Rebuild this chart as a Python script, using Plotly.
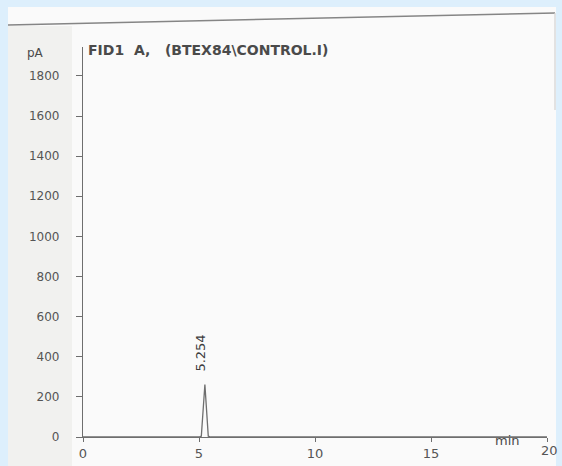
import plotly.graph_objects as go

# Data
time_min = [0.0, 2.0, 4.0, 5.0, 5.1, 5.254, 5.4, 5.5, 7.0, 10.0, 12.0, 15.0, 17.0, 20.0]
signal_pA = [0, 0, 0, 0, 4, 262, 4, 0, 0, 0, 0, 0, 0, 0]
x_ticks = [0, 5, 10, 15, 20]
y_ticks = [0, 200, 400, 600, 800, 1000, 1200, 1400, 1600, 1800]
peak_rt = 5.254
peak_label = "5.254"
title_text = "FID1  A,   (BTEX84\\CONTROL.I)"

W, H = 562, 466
L, R, T, B = 83, 15, 47, 29
PW, PH = W - L - R, H - T - B


def px(x):
    return (x - L) / PW


def py(y):
    return (H - B - y) / PH


FONT = "DejaVu Sans, Liberation Sans, Arial"

fig = go.Figure()
fig.add_trace(go.Scatter(
    x=time_min, y=signal_pA, mode="lines",
    line=dict(color="#6e6e6e", width=1.3),
    hoverinfo="skip", showlegend=False,
))

# paper sheet on light-blue background
fig.add_shape(type="rect", xref="paper", yref="paper",
              x0=px(8), x1=px(556), y0=py(H + 5), y1=py(7),
              line=dict(width=0), fillcolor="#fafafa", layer="below")
fig.add_shape(type="rect", xref="paper", yref="paper",
              x0=px(8), x1=px(72), y0=py(H + 5), y1=py(26),
              line=dict(width=0), fillcolor="#f1f1ef", layer="below")
# top border line of the printout (slightly slanted)
fig.add_shape(type="line", xref="paper", yref="paper",
              x0=px(8), y0=py(25), x1=px(555), y1=py(13),
              line=dict(color="#858585", width=1.5))
fig.add_shape(type="line", xref="paper", yref="paper",
              x0=px(555), y0=py(13), x1=px(555), y1=py(110),
              line=dict(color="#d2d2d2", width=1.2))

fig.add_annotation(x=peak_rt, y=318, text=peak_label, textangle=-90,
                   showarrow=False, xanchor="center", yanchor="bottom", xshift=-4,
                   font=dict(family=FONT, size=13, color="#3c3c3c"))
fig.add_annotation(xref="paper", yref="paper", x=px(86), y=py(50),
                   text=title_text, showarrow=False, xanchor="left", yanchor="middle",
                   font=dict(family=FONT, size=14, color="#4a4a4a", weight="bold"))
fig.add_annotation(xref="paper", yref="paper", x=px(25), y=py(53),
                   text="pA", showarrow=False, xanchor="left", yanchor="middle",
                   font=dict(family=FONT, size=12, color="#4a4a4a"))
fig.add_annotation(xref="paper", yref="paper", x=px(507), y=py(440),
                   text="min", showarrow=False, xanchor="center", yanchor="middle",
                   font=dict(family=FONT, size=13, color="#4a4a4a"))
fig.add_annotation(xref="paper", yref="paper", x=px(549), y=py(450),
                   text="20", showarrow=False, xanchor="center", yanchor="middle",
                   font=dict(family=FONT, size=13, color="#555555"))

fig.update_layout(
    width=W, height=H,
    margin=dict(l=L, r=R, t=T, b=B),
    paper_bgcolor="#ddeffc",
    plot_bgcolor="rgba(0,0,0,0)",
    font=dict(family=FONT, size=12, color="#555555"),
    xaxis=dict(range=[0, 20], tickvals=x_ticks, ticktext=["0", "5", "10", "15", ""],
               showgrid=False, zeroline=False, showline=True, linecolor="#6e6e6e",
               linewidth=1.3, ticks="outside", ticklen=4, tickcolor="#6e6e6e",
               ticklabelstandoff=0, automargin=False,
               tickfont=dict(family=FONT, size=13, color="#555555")),
    yaxis=dict(range=[0, 1944], tickvals=y_ticks, showgrid=False, zeroline=False,
               showline=True, linecolor="#6e6e6e", linewidth=1.3,
               ticks="outside", ticklen=6, tickcolor="#6e6e6e",
               ticklabelstandoff=14, automargin=False,
               tickfont=dict(family=FONT, size=12, color="#555555")),
)

fig.write_html("out.html")
